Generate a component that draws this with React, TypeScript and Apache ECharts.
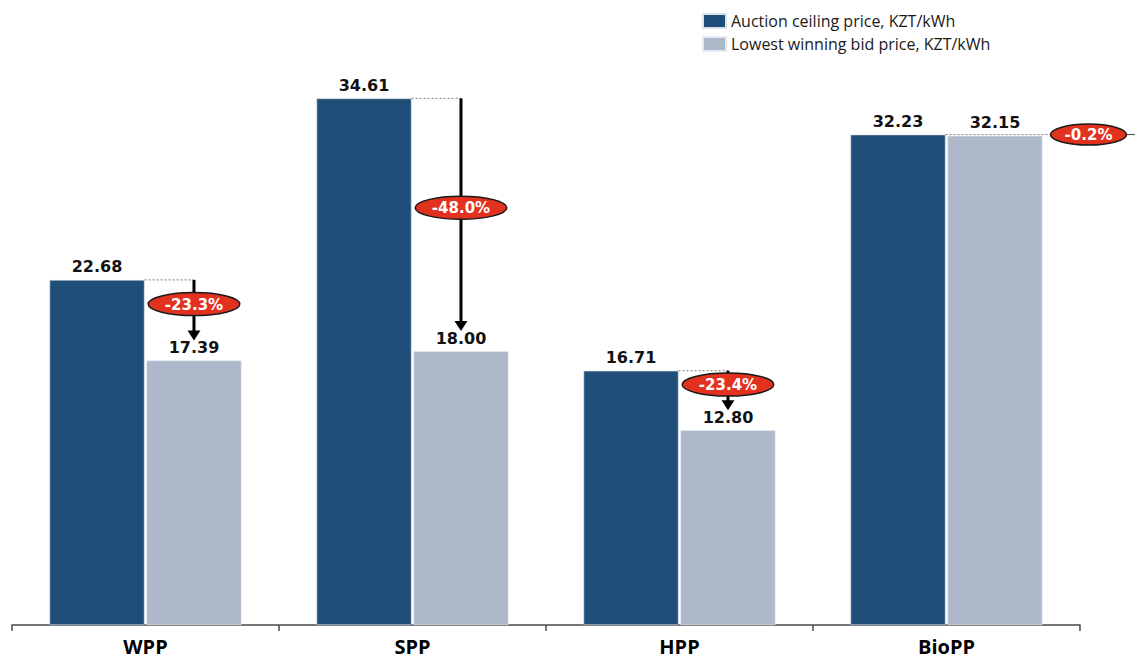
import { useEffect, useRef } from 'react';
import * as echarts from 'echarts';

// Auction results by technology, KZT/kWh
const categories = ['WPP', 'SPP', 'HPP', 'BioPP'];
const ceilingPrices = [22.68, 34.61, 16.71, 32.23];
const winningBids = [17.39, 18.0, 12.8, 32.15];
const seriesNames = ['Auction ceiling price, KZT/kWh', 'Lowest winning bid price, KZT/kWh'];

// Where each change badge sits: on a downward arrow or to the side of the bars
const badgePlacement = ['drop', 'drop', 'drop', 'side'];
// Position of the badge along the arrow (0 = top, 1 = tip)
const badgeAlong = [0.4, 0.47, 0.35, 0];

const DARK = '#1f4e79';
const LIGHT = '#adb9cb';
const BAR_FRAC = 0.356;
const GAP_FRAC = 0.02;
const VALUE_FONT = 'DejaVu Sans';

const annotationData = categories.map((_, i) => [i, ceilingPrices[i], winningBids[i]]);

function renderAnnotation(params: any, api: any) {
  const i = api.value(0);
  const ceil = api.value(1);
  const bid = api.value(2);
  const [cx, yTop] = api.coord([i, ceil]);
  const [, yBid] = api.coord([i, bid]);
  const catW = api.size([1, 0])[0];
  const barW = catW * BAR_FRAC;
  const gap = barW * GAP_FRAC;
  const darkRight = cx - gap / 2;
  const lightCenter = cx + gap / 2 + barW / 2;
  const lightRight = cx + gap / 2 + barW;
  const pct = (((bid - ceil) / ceil) * 100).toFixed(1) + '%';
  const rx = pct.length * 7.8 - 1;
  const ry = 11.5;
  const dotted = { stroke: '#7a7a7a', lineWidth: 1, lineDash: [2, 2] };
  const badgeStyle = { fill: '#e2321f', stroke: '#1a1a1a', lineWidth: 1.5 };
  const textStyle = (x: number, y: number) => ({
    text: pct,
    x,
    y,
    align: 'center',
    verticalAlign: 'middle',
    fill: '#ffffff',
    font: `bold 15px "${VALUE_FONT}"`,
  });

  const children: any[] = [];
  if (badgePlacement[i] === 'drop') {
    const tip = yBid - 20;
    const headH = 10;
    children.push({
      type: 'line',
      shape: { x1: darkRight, y1: yTop, x2: lightCenter, y2: yTop },
      style: dotted,
    });
    children.push({
      type: 'line',
      shape: { x1: lightCenter, y1: yTop, x2: lightCenter, y2: tip - headH + 1 },
      style: { stroke: '#000', lineWidth: 3 },
    });
    children.push({
      type: 'polygon',
      shape: {
        points: [
          [lightCenter - 6.5, tip - headH],
          [lightCenter + 6.5, tip - headH],
          [lightCenter, tip],
        ],
      },
      style: { fill: '#000' },
    });
    const by = yTop + (tip - yTop) * badgeAlong[i];
    children.push({ type: 'ellipse', shape: { cx: lightCenter, cy: by, rx, ry }, style: badgeStyle });
    children.push({ type: 'text', style: textStyle(lightCenter, by + 0.5) });
  } else {
    const bx = lightRight + 46;
    children.push({
      type: 'line',
      shape: { x1: darkRight, y1: yTop, x2: bx - rx, y2: yTop },
      style: dotted,
    });
    children.push({
      type: 'line',
      shape: { x1: bx + rx, y1: yTop, x2: bx + rx + 40, y2: yTop },
      style: { stroke: '#444', lineWidth: 1 },
    });
    children.push({ type: 'ellipse', shape: { cx: bx, cy: yTop, rx, ry: ry - 1 }, style: badgeStyle });
    children.push({ type: 'text', style: textStyle(bx, yTop + 0.5) });
  }
  return { type: 'group', children };
}

export default function App() {
  const ref = useRef<HTMLDivElement>(null);

  useEffect(() => {
    if (!ref.current) return;
    const chart = echarts.init(ref.current, null, { renderer: 'svg' });
    const valueLabel = {
      show: true,
      position: 'top' as const,
      distance: 5,
      color: '#111',
      fontFamily: VALUE_FONT,
      fontWeight: 'bold' as const,
      fontSize: 16,
      formatter: (p: any) => Number(p.value).toFixed(2),
    };
    chart.setOption({
      animation: false,
      backgroundColor: '#ffffff',
      legend: {
        data: seriesNames,
        orient: 'vertical',
        left: 697,
        top: 8,
        itemWidth: 23,
        itemHeight: 14,
        itemGap: 7,
        icon: 'rect',
        textStyle: { fontFamily: 'Open Sans', fontSize: 16, color: '#1a1a1a' },
      },
      grid: { left: 12, right: 55, top: 62, bottom: 33 },
      xAxis: {
        type: 'category',
        data: categories,
        axisLine: { lineStyle: { color: '#4a4a4a', width: 1.5 } },
        axisTick: { show: true, length: 6, lineStyle: { color: '#4a4a4a', width: 1.5 } },
        axisLabel: {
          color: '#000',
          fontFamily: 'Open Sans',
          fontWeight: 'bold',
          fontSize: 20,
          margin: 11,
        },
      },
      yAxis: { type: 'value', min: 0, max: 37, show: false, splitLine: { show: false } },
      series: [
        {
          name: seriesNames[0],
          type: 'bar',
          data: ceilingPrices,
          barWidth: `${BAR_FRAC * 100}%`,
          barGap: `${GAP_FRAC * 100}%`,
          itemStyle: { color: DARK, borderColor: '#dde3ec', borderWidth: 0.6 },
          label: valueLabel,
        },
        {
          name: seriesNames[1],
          type: 'bar',
          data: winningBids,
          barWidth: `${BAR_FRAC * 100}%`,
          itemStyle: { color: LIGHT, borderColor: '#e6eaf0', borderWidth: 0.6 },
          label: valueLabel,
        },
        {
          type: 'custom',
          name: 'change',
          data: annotationData,
          encode: { x: 0, y: [1, 2] },
          renderItem: renderAnnotation,
          z: 10,
          silent: true,
        },
      ],
    });
    return () => chart.dispose();
  }, []);

  return (
    <div
      ref={ref}
      style={{ position: 'fixed', left: 0, top: 0, width: 1135, height: 658 }}
    />
  );
}
